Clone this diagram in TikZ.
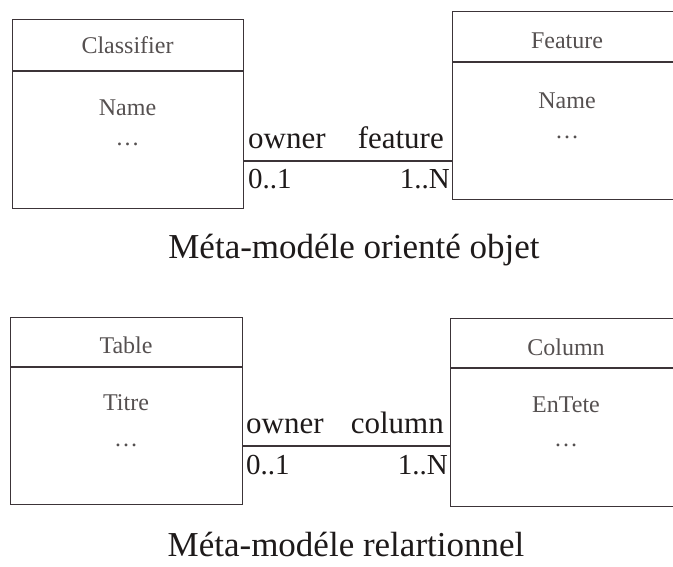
\documentclass[tikz,border=0pt]{standalone}
\usepackage{fontspec}
\setmainfont{Liberation Serif}
\definecolor{linecol}{RGB}{60,52,56}
\definecolor{boxtxt}{RGB}{85,80,80}
\definecolor{labtxt}{RGB}{30,26,26}
\tikzset{
  umlbox/.style={draw=linecol, line width=1.2pt, rectangle, inner sep=0pt, anchor=north west},
  divider/.style={draw=linecol, line width=1.2pt},
  assoc/.style={draw=linecol, line width=1.2pt},
  boxtext/.style={font=\fontsize{24}{28}\selectfont, text=boxtxt, anchor=base, inner sep=0pt},
  rolelabel/.style={font=\fontsize{31}{36}\selectfont, text=labtxt, inner sep=0pt},
  multlabel/.style={font=\fontsize{29}{34}\selectfont, text=labtxt, inner sep=0pt},
  captiontext/.style={font=\fontsize{35}{40}\selectfont, text=labtxt, anchor=base, inner sep=0pt},
}
\begin{document}
\begin{tikzpicture}[x=1pt, y=-1pt]
\clip (0,0) rectangle (673,566);
\useasboundingbox (0,0) rectangle (673,566);

% ---- top diagram ----
\node[umlbox, minimum width=231pt, minimum height=189pt] (clsbox) at (12,19) {};
\coordinate (clsdivL) at (12,71);
\coordinate (clsdivR) at (243,71);
\draw[divider] (clsdivL) -- (clsdivR);
\node[boxtext] (clsname) at (127.5,53) {Classifier};
\node[boxtext] (clsattr) at (127.5,115) {Name};
\node[boxtext] (clsdots) at (127.5,145) {\ldots};

\node[umlbox, minimum width=232pt, minimum height=188pt] (featbox) at (452,11) {};
\coordinate (featdivL) at (452,62);
\coordinate (featdivR) at (684,62);
\draw[divider] (featdivL) -- (featdivR);
\node[boxtext] (featname) at (567,48) {Feature};
\node[boxtext] (featattr) at (567,108) {Name};
\node[boxtext] (featdots) at (567,138) {\ldots};

\draw[assoc] (clsbox.east |- 0,161) -- (featbox.west |- 0,161);
\node[rolelabel, anchor=base west] (own1) at (248,148) {owner};
\node[rolelabel, anchor=base east] (feat1) at (444,148) {feature};
\node[multlabel, anchor=base west] (m01a) at (248,188) {0..1};
\node[multlabel, anchor=base east] (m1na) at (450,188) {1..N};

\node[captiontext] (cap1) at (354,258) {Méta-modéle orienté objet};

% ---- bottom diagram ----
\node[umlbox, minimum width=232pt, minimum height=187pt] (tabbox) at (10,317) {};
\coordinate (tabdivL) at (10,367);
\coordinate (tabdivR) at (242,367);
\draw[divider] (tabdivL) -- (tabdivR);
\node[boxtext] (tabname) at (126,353) {Table};
\node[boxtext] (tabattr) at (126,410) {Titre};
\node[boxtext] (tabdots) at (126,446) {\ldots};

\node[umlbox, minimum width=232pt, minimum height=188pt] (colbox) at (450,318) {};
\coordinate (coldivL) at (450,368);
\coordinate (coldivR) at (682,368);
\draw[divider] (coldivL) -- (coldivR);
\node[boxtext] (colname) at (566,355) {Column};
\node[boxtext] (colattr) at (566,412) {EnTete};
\node[boxtext] (coldots) at (566,446) {\ldots};

\draw[assoc] (tabbox.east |- 0,446) -- (colbox.west |- 0,446);
\node[rolelabel, anchor=base west] (own2) at (246,433) {owner};
\node[rolelabel, anchor=base east] (col2) at (444,433) {column};
\node[multlabel, anchor=base west] (m01b) at (246,474) {0..1};
\node[multlabel, anchor=base east] (m1nb) at (448,474) {1..N};

\node[captiontext] (cap2) at (346,556) {Méta-modéle relartionnel};
\end{tikzpicture}
\end{document}
